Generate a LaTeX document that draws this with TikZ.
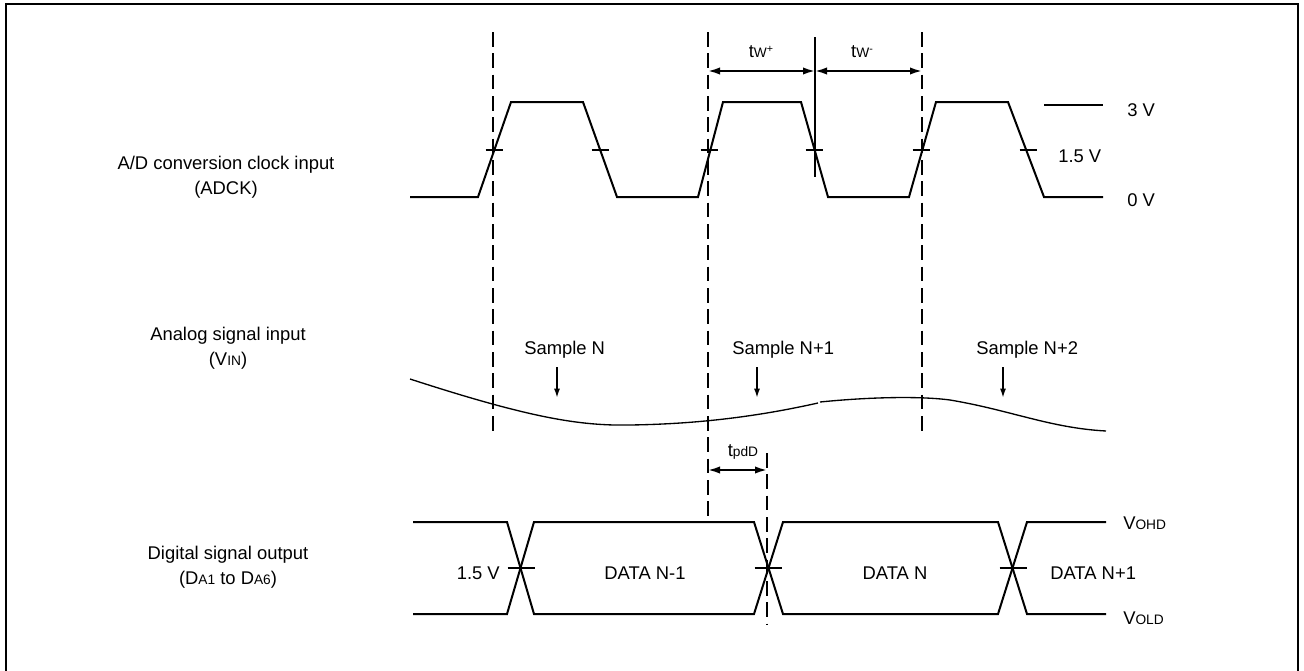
\documentclass[tikz,border=0pt]{standalone}
\usepackage{fontspec}
\setmainfont{Liberation Sans}
\usetikzlibrary{arrows.meta}
\newcommand\smtxt[1]{{\fontsize{10.3}{12}\selectfont #1}}
\newcommand\suptxt[1]{\raisebox{0.6ex}{\fontsize{8}{9}\selectfont #1}}
\begin{document}
\begin{tikzpicture}[x=0.75pt,y=-0.75pt,
  wave/.style={line width=1.5pt, line join=miter},
  guide/.style={line width=0.9pt, dash pattern=on 11pt off 5pt},
  dim/.style={line width=1.4pt, {Latex[length=9pt,width=5.5pt]}-{Latex[length=9pt,width=5.5pt]}},
  samp/.style={line width=1.3pt, -{Latex[length=7pt,width=4.5pt]}},
  lbl/.style={font=\fontsize{13.8}{18.5}\selectfont, inner sep=0pt},
  tick/.style={line width=1.3pt},
  analog/.style={line width=1pt}]
\useasboundingbox (0,0) rectangle (1304,671);
\draw[line width=2.2pt] (6,680) -- (6,4) -- (1298,4) -- (1298,680);

% clock waveform
\draw[wave] (410,197) -- (478,197) -- (511,102) -- (583,102) -- (617,197) -- (698,197) -- (723,102) -- (801,102) -- (828,197) -- (909,197) -- (936,102) -- (1008,102) -- (1044,197) -- (1103,197);
\foreach \x in {494,600,709,814,921,1028} \draw[tick] (\x-8.5,150) -- (\x+8.5,150);
\draw[wave] (1044,105) -- (1103,105);
\node[lbl,anchor=west] (v3) at (1127,110) {3 V};
\node[lbl,anchor=west] (v15) at (1058,156) {1.5 V};
\node[lbl,anchor=west] (v0) at (1127,200) {0 V};

% guides
\draw[guide] (493,32) -- (493,435);
\draw[guide] (708,32) -- (708,522);
\draw[guide] (922,32) -- (922,437);
\draw[line width=1.5pt] (815,37) -- (815,177);
\coordinate (twa) at (708,71);
\coordinate (twb) at (815,71);
\coordinate (twc) at (922,71);
\draw[dim] (twa) -- (twb);
\draw[dim] (twb) -- (twc);
\node[lbl] (twp) at (761,52) {t\smtxt{W}\suptxt{+}};
\node[lbl] (twm) at (862,52) {t\smtxt{W}\suptxt{-}};

% left labels
\node[lbl,align=center] (adck) at (226,177) {A/D conversion clock input\\(ADCK)};
\node[lbl,align=center] (vin) at (228,348) {Analog signal input\\(V\smtxt{IN})};
\node[lbl,align=center] (dout) at (228,567) {Digital signal output\\(D\smtxt{A1} to D\smtxt{A6})};

% analog signal
\draw[analog] (410,379) .. controls (530,418) and (580,426) .. (630,425) .. controls (700,424) and (760,416) .. (818,403);
\draw[analog] (820,402) .. controls (870,397) and (920,396) .. (950,400) .. controls (1010,410) and (1050,428) .. (1106,431);
\node[lbl,anchor=west] (sn) at (524,350) {Sample N};
\node[lbl,anchor=west] (sn1) at (732,350) {Sample N+1};
\node[lbl,anchor=west] (sn2) at (976,350) {Sample N+2};
\coordinate (a1) at (557,367); \coordinate (a1e) at (557,398);
\coordinate (a2) at (757,367); \coordinate (a2e) at (757,398);
\coordinate (a3) at (1003,367); \coordinate (a3e) at (1003,398);
\draw[samp] (a1) -- (a1e);
\draw[samp] (a2) -- (a2e);
\draw[samp] (a3) -- (a3e);

% tpdD
\draw[guide] (767,453) -- (767,625);
\coordinate (pa) at (708,470);
\coordinate (pb) at (767,470);
\draw[dim] (pa) -- (pb);
\node[lbl] (tpd) at (743,452) {t\smtxt{pdD}};

% digital output
\draw[wave] (413,522) -- (507,522) -- (534,614) -- (754,614) -- (783,522) -- (998,522) -- (1027,614) -- (1106,614);
\draw[wave] (413,614) -- (507,614) -- (534,522) -- (754,522) -- (783,614) -- (998,614) -- (1027,522) -- (1106,522);
\foreach \x in {521,768,1013} \draw[tick] (\x-13.5,568) -- (\x+13.5,568);
\node[lbl,anchor=east] (d15) at (500,573) {1.5 V};
\node[lbl] (dn1) at (645,573) {DATA N-1};
\node[lbl] (dn) at (895,573) {DATA N};
\node[lbl,anchor=west] (dn2) at (1050,573) {DATA N+1};
\node[lbl,anchor=west] (voh) at (1123,523) {V\smtxt{OHD}};
\node[lbl,anchor=west] (vol) at (1123,618) {V\smtxt{OLD}};
\end{tikzpicture}
\end{document}
